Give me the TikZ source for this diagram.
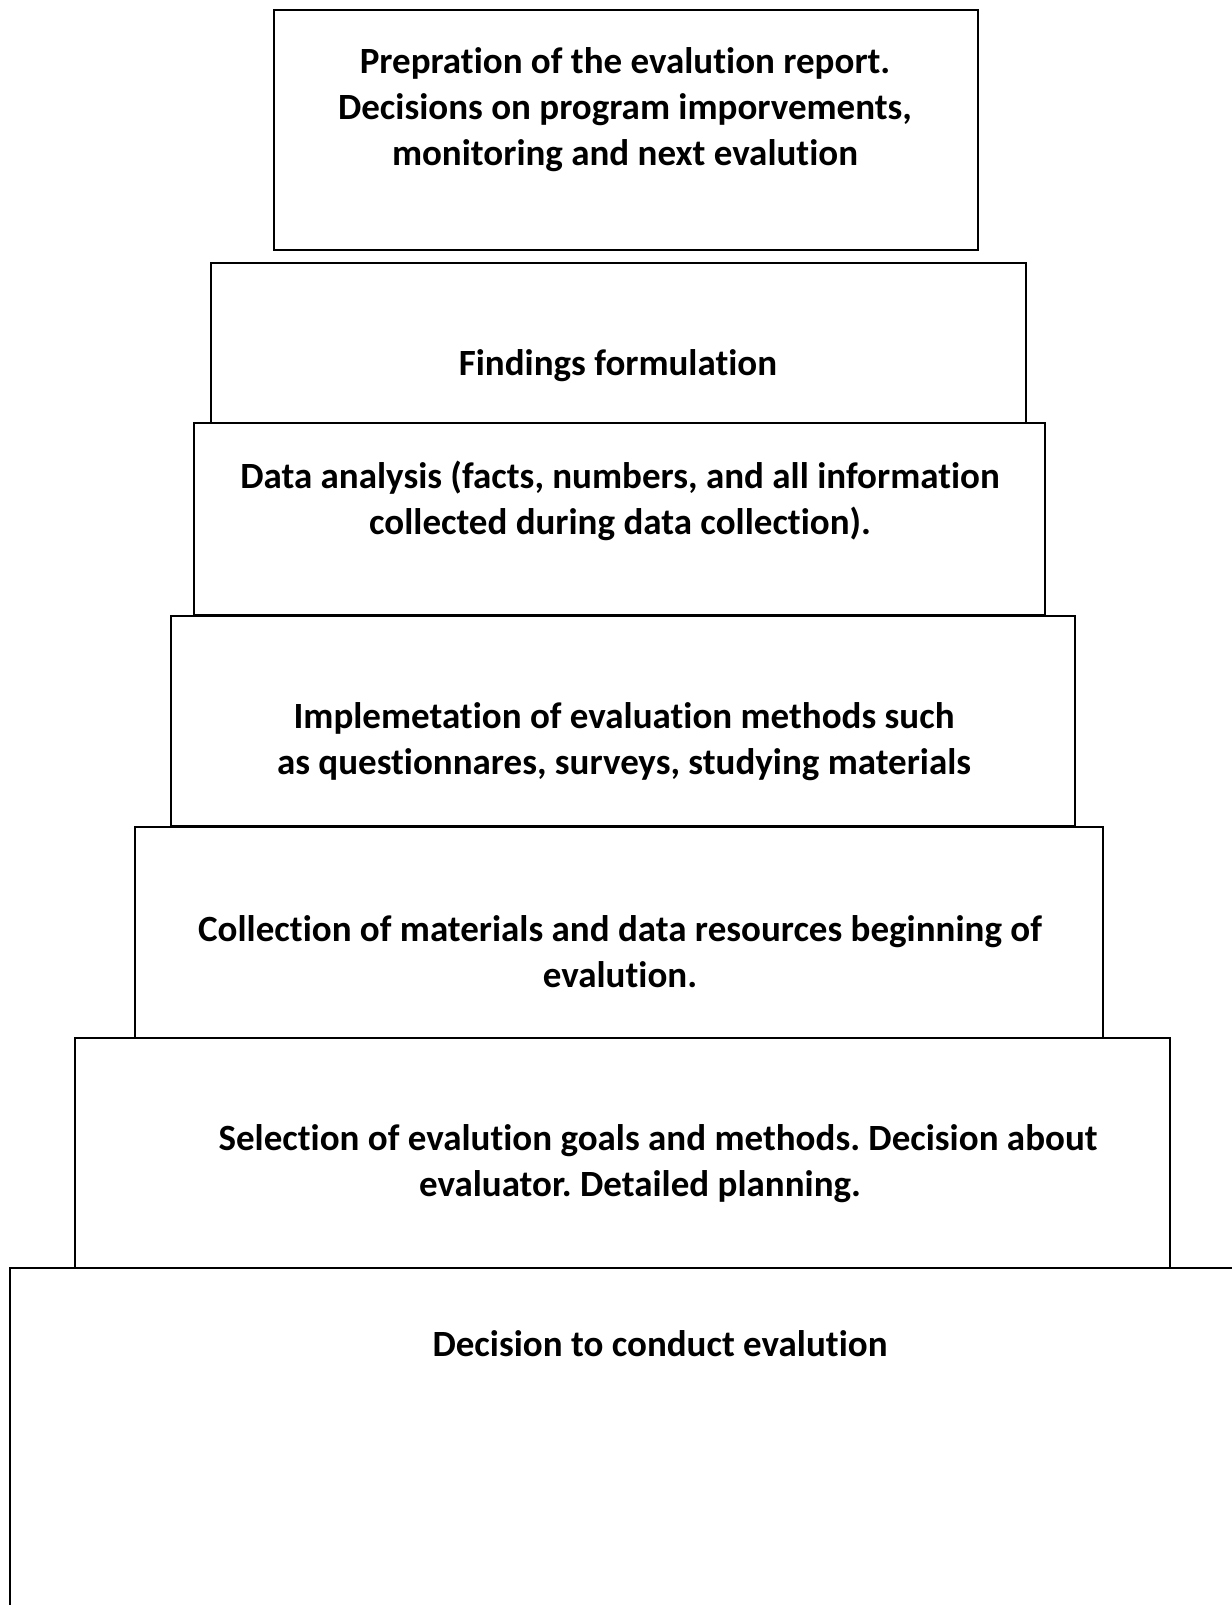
\documentclass[tikz,border=0pt]{standalone}
\usepackage{fontspec}
\setmainfont[RawFeature={-liga;-clig;-calt;-dlig}]{Carlito}
\frenchspacing
\tikzset{
  stepbox/.style={draw=black, line width=0.9pt},
  steptext/.style={font=\bfseries\fontsize{18.5}{23}\selectfont, align=center, inner sep=0pt}
}
\begin{document}
\begin{tikzpicture}[x=0.5pt, y=-0.5pt]
  \useasboundingbox (0,0) rectangle (1231,1605);

  % the boxes, top to bottom
  \draw[stepbox] (274,10) rectangle (978,250);
  \draw[stepbox] (211,263) rectangle (1026,423);
  \draw[stepbox] (194,423) rectangle (1045,615);
  \draw[stepbox] (171,616) rectangle (1075,826);
  \draw[stepbox] (135,827) rectangle (1103,1038);
  \draw[stepbox] (75,1038) rectangle (1170,1268);
  \draw[stepbox] (10,1268) rectangle (1250,1625);

  \node[steptext] (prep) at (625,110) {Prepration of the evalution report.\\Decisions on program imporvements,\\monitoring and next evalution};
  \node[steptext] (findings) at (618,366) {Findings formulation};
  \node[steptext] (analysis) at (620,501) {Data analysis (facts, numbers, and all information\\collected during data collection).};
  \node[steptext] (methods) at (624,742) {Implemetation of evaluation methods such\\as questionnares, surveys, studying materials};
  \node[steptext] (collection) at (620,952) {Collection of materials and data resources beginning of\\evalution.};
  \node[steptext] (selection) at (640,1164) {\hspace*{18pt}Selection of evalution goals and methods. Decision about\\evaluator. Detailed planning.};
  \node[steptext] (decision) at (660,1344) {Decision to conduct evalution};

\end{tikzpicture}
\end{document}
